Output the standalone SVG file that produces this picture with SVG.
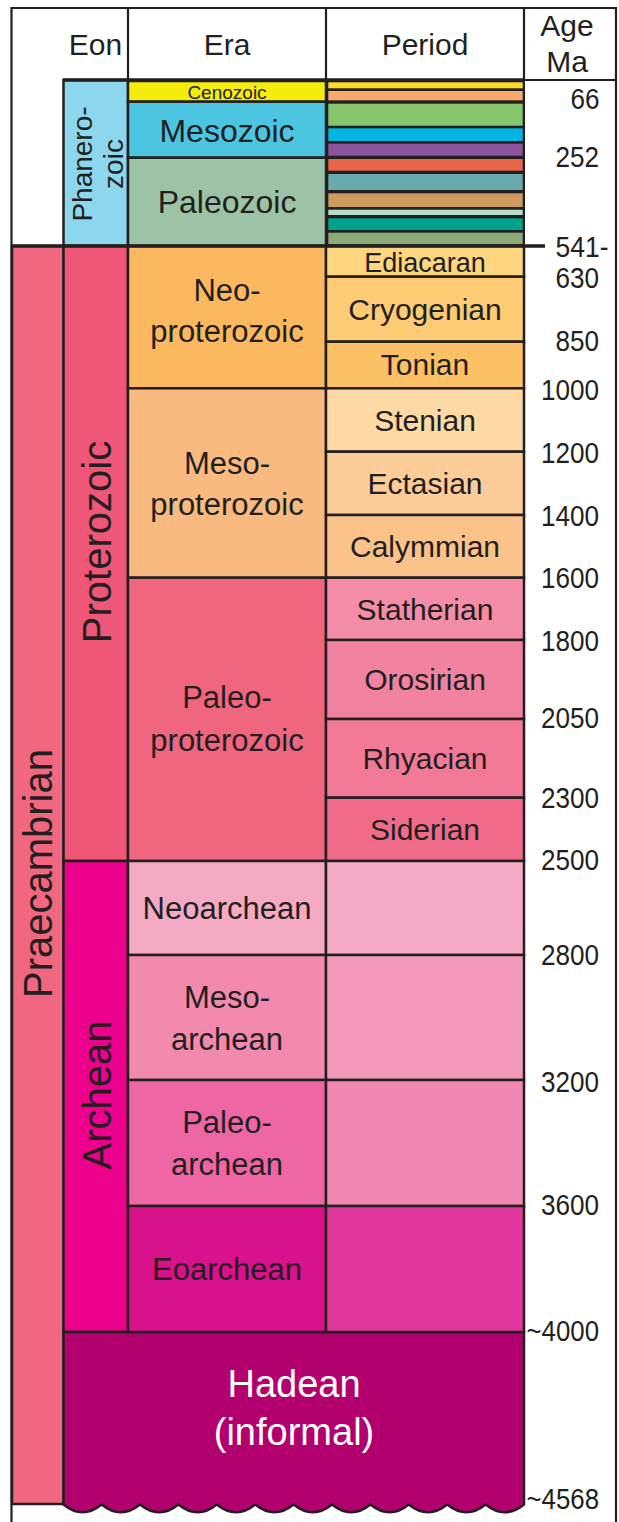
<svg xmlns="http://www.w3.org/2000/svg" width="619" height="1522" viewBox="0 0 619 1522">
<style>
  .box { stroke:#231f20; stroke-width:2.5; }
  .t { font-family:"Liberation Sans", Arial, Helvetica, sans-serif; fill:#231f20; text-anchor:middle; }
  .h { font-size:30px; }
  .era { font-size:31px; }
  .per { font-size:30px; }
  .eon { font-size:40px; }
  .age { font-family:"Liberation Sans", Arial, Helvetica, sans-serif; fill:#231f20; font-size:29px; }
  .frame { fill:none; stroke:#231f20; stroke-width:2.2; }
</style>
<rect x="0" y="0" width="619" height="1522" fill="#ffffff"/>

<g id="header">
  <text class="t h" x="95.5" y="55">Eon</text>
  <text class="t h" x="227" y="55">Era</text>
  <text class="t h" x="425" y="55">Period</text>
  <text class="t h" x="567" y="36">Age</text>
  <text class="t h" x="567" y="72">Ma</text>
</g>

<g id="eon-phanerozoic">
  <rect class="box" x="63.5" y="80" width="64.5" height="166" fill="#8dd7ee"/>
  <text class="t" font-size="28" transform="translate(91.7,164) rotate(-90)">Phanero-</text>
  <text class="t" font-size="28" transform="translate(123.3,164) rotate(-90)">zoic</text>
</g>
<g id="eon-praecambrian">
  <rect class="box" x="12" y="246" width="51.5" height="1258" fill="#f0677f"/>
  <text class="t eon" transform="translate(51.5,873.5) rotate(-90)">Praecambrian</text>
</g>
<g id="eon-proterozoic">
  <rect class="box" x="63.5" y="246" width="64.5" height="615" fill="#ef5677"/>
  <text class="t eon" transform="translate(111,542) rotate(-90)">Proterozoic</text>
</g>
<g id="eon-archean">
  <rect class="box" x="63.5" y="861" width="64.5" height="471" fill="#ec008c"/>
  <text class="t eon" transform="translate(111,1095) rotate(-90)">Archean</text>
</g>
<g id="eon-hadean">
  <path class="box" fill="#b3006f" d="M63.5,1332 H524 V1504.5 Q504.8,1520 485.6,1504.5 Q466.4,1520 447.2,1504.5 Q428,1520 408.8,1504.5 Q389.6,1520 370.4,1504.5 Q351.2,1520 332,1504.5 Q312.8,1520 293.6,1504.5 Q274.4,1520 255.2,1504.5 Q236,1520 216.8,1504.5 Q197.6,1520 178.4,1504.5 Q159.2,1520 140,1504.5 Q120.8,1520 101.6,1504.5 Q82.5,1520 63.5,1504.5 Z"/>
  <text class="t" font-size="38" fill="#ffffff" style="fill:#ffffff" x="294" y="1397">Hadean</text>
  <text class="t" font-size="38" style="fill:#ffffff" x="294" y="1445">(informal)</text>
</g>

<g id="era-cenozoic">
  <rect class="box" x="128" y="81" width="198" height="20.7" fill="#f5ec0a"/>
  <text class="t" font-size="19" x="227" y="99">Cenozoic</text>
</g>
<g id="era-mesozoic">
  <rect class="box" x="128" y="101.7" width="198" height="56" fill="#4bc5e0"/>
  <text class="t" font-size="32" x="227" y="141.7">Mesozoic</text>
</g>
<g id="era-paleozoic">
  <rect class="box" x="128" y="157.7" width="198" height="88.3" fill="#9cc3a5"/>
  <text class="t" font-size="32" x="227" y="213.3">Paleozoic</text>
</g>
<g id="era-neoproterozoic">
  <rect class="box" x="128" y="246" width="198" height="142.3" fill="#fbb85f"/>
  <text class="t era" x="227" y="301">Neo-</text>
  <text class="t era" x="227" y="342">proterozoic</text>
</g>
<g id="era-mesoproterozoic">
  <rect class="box" x="128" y="388.3" width="198" height="189.4" fill="#f8ba7e"/>
  <text class="t era" x="227" y="474">Meso-</text>
  <text class="t era" x="227" y="515">proterozoic</text>
</g>
<g id="era-paleoproterozoic">
  <rect class="box" x="128" y="577.7" width="198" height="283.3" fill="#f1667f"/>
  <text class="t era" x="227" y="708">Paleo-</text>
  <text class="t era" x="227" y="751">proterozoic</text>
</g>
<g id="era-neoarchean">
  <rect class="box" x="128" y="861" width="198" height="94" fill="#f5aac4"/>
  <text class="t era" x="227" y="919">Neoarchean</text>
</g>
<g id="era-mesoarchean">
  <rect class="box" x="128" y="955" width="198" height="125" fill="#f28aae"/>
  <text class="t era" x="227" y="1008">Meso-</text>
  <text class="t era" x="227" y="1050">archean</text>
</g>
<g id="era-paleoarchean">
  <rect class="box" x="128" y="1080" width="198" height="126" fill="#ef66a4"/>
  <text class="t era" x="227" y="1133">Paleo-</text>
  <text class="t era" x="227" y="1175">archean</text>
</g>
<g id="era-eoarchean">
  <rect class="box" x="128" y="1206" width="198" height="126" fill="#d9118a"/>
  <text class="t era" x="227" y="1280">Eoarchean</text>
</g>

<g id="periods-phanerozoic">
  <rect x="325" y="80" width="200" height="167" fill="#231f20"/>
  <rect x="328.3" y="82.3" width="194.4" height="6" fill="#fddc2a"/>
  <rect x="328.3" y="91" width="194.4" height="9.3" fill="#f9a870"/>
  <rect x="328.3" y="103.7" width="194.4" height="22" fill="#86c66e"/>
  <rect x="328.3" y="128.3" width="194.4" height="12.7" fill="#00b5e2"/>
  <rect x="328.3" y="143.7" width="194.4" height="12" fill="#8b559d"/>
  <rect x="328.3" y="159" width="194.4" height="11.7" fill="#e8654b"/>
  <rect x="328.3" y="174" width="194.4" height="16" fill="#67abae"/>
  <rect x="328.3" y="193.3" width="194.4" height="13.7" fill="#cc9b5e"/>
  <rect x="328.3" y="209.7" width="194.4" height="5.3" fill="#b5dec8"/>
  <rect x="328.3" y="218.3" width="194.4" height="11.7" fill="#00a38a"/>
  <rect x="328.3" y="232.7" width="194.4" height="11.6" fill="#8baa78"/>
</g>
<g id="period-ediacaran">
  <rect class="box" x="326" y="246" width="198" height="30.7" fill="#fed67f"/>
  <text class="t" font-size="27" x="425" y="271.7">Ediacaran</text>
</g>
<g id="period-cryogenian">
  <rect class="box" x="326" y="276.7" width="198" height="65" fill="#fdcb73"/>
  <text class="t per" x="425" y="319.5">Cryogenian</text>
</g>
<g id="period-tonian">
  <rect class="box" x="326" y="341.7" width="198" height="46.6" fill="#fdc165"/>
  <text class="t per" x="425" y="375">Tonian</text>
</g>
<g id="period-stenian">
  <rect class="box" x="326" y="388.3" width="198" height="63.4" fill="#fed9a6"/>
  <text class="t per" x="425" y="431">Stenian</text>
</g>
<g id="period-ectasian">
  <rect class="box" x="326" y="451.7" width="198" height="63.3" fill="#fccc99"/>
  <text class="t per" x="425" y="494">Ectasian</text>
</g>
<g id="period-calymmian">
  <rect class="box" x="326" y="515" width="198" height="62.7" fill="#fbc289"/>
  <text class="t per" x="425" y="557">Calymmian</text>
</g>
<g id="period-statherian">
  <rect class="box" x="326" y="577.7" width="198" height="62.3" fill="#f58da9"/>
  <text class="t per" x="425" y="620">Statherian</text>
</g>
<g id="period-orosirian">
  <rect class="box" x="326" y="640" width="198" height="79" fill="#f283a0"/>
  <text class="t per" x="425" y="690">Orosirian</text>
</g>
<g id="period-rhyacian">
  <rect class="box" x="326" y="719" width="198" height="78.7" fill="#f27a96"/>
  <text class="t per" x="425" y="769">Rhyacian</text>
</g>
<g id="period-siderian">
  <rect class="box" x="326" y="797.7" width="198" height="63.3" fill="#f06b8a"/>
  <text class="t per" x="425" y="840">Siderian</text>
</g>
<g id="period-archean">
  <rect class="box" x="326" y="861" width="198" height="94" fill="#f5abc5"/>
  <rect class="box" x="326" y="955" width="198" height="125" fill="#f39aba"/>
  <rect class="box" x="326" y="1080" width="198" height="126" fill="#f287b3"/>
  <rect class="box" x="326" y="1206" width="198" height="126" fill="#e1369b"/>
</g>

<g id="connectors">
  <path class="frame" d="M11.5,1522 V8 H616 V1522"/>
  <path class="frame" d="M128,8 V80 M326,8 V80 M524,8 V80"/>
  <path class="frame" d="M524,80 H616"/>
  <path fill="none" stroke="#231f20" stroke-width="3.5" d="M63,80 H524"/>
  <path fill="none" stroke="#231f20" stroke-width="3.5" d="M11,246 H545"/>
</g>

<g id="ages">
  <text class="age" x="570.6" y="109.3" textLength="29" lengthAdjust="spacingAndGlyphs">66</text>
  <text class="age" x="555.5" y="166.7" textLength="43.5" lengthAdjust="spacingAndGlyphs">252</text>
  <text class="age" x="555.5" y="256.7" textLength="53" lengthAdjust="spacingAndGlyphs">541-</text>
  <text class="age" x="555.5" y="288.3" textLength="43.5" lengthAdjust="spacingAndGlyphs">630</text>
  <text class="age" x="555.5" y="350.7" textLength="43.5" lengthAdjust="spacingAndGlyphs">850</text>
  <text class="age" x="541" y="400" textLength="58" lengthAdjust="spacingAndGlyphs">1000</text>
  <text class="age" x="541" y="463.3" textLength="58" lengthAdjust="spacingAndGlyphs">1200</text>
  <text class="age" x="541" y="526" textLength="58" lengthAdjust="spacingAndGlyphs">1400</text>
  <text class="age" x="541" y="587.7" textLength="58" lengthAdjust="spacingAndGlyphs">1600</text>
  <text class="age" x="541" y="650.7" textLength="58" lengthAdjust="spacingAndGlyphs">1800</text>
  <text class="age" x="541" y="728.3" textLength="58" lengthAdjust="spacingAndGlyphs">2050</text>
  <text class="age" x="541" y="808.3" textLength="58" lengthAdjust="spacingAndGlyphs">2300</text>
  <text class="age" x="541" y="870" textLength="58" lengthAdjust="spacingAndGlyphs">2500</text>
  <text class="age" x="541" y="965" textLength="58" lengthAdjust="spacingAndGlyphs">2800</text>
  <text class="age" x="541" y="1091.7" textLength="58" lengthAdjust="spacingAndGlyphs">3200</text>
  <text class="age" x="541" y="1215" textLength="58" lengthAdjust="spacingAndGlyphs">3600</text>
  <text class="age" x="526.5" y="1340.7" textLength="72.5" lengthAdjust="spacingAndGlyphs">~4000</text>
  <text class="age" x="526.5" y="1509.3" textLength="72.5" lengthAdjust="spacingAndGlyphs">~4568</text>
</g>
</svg>
